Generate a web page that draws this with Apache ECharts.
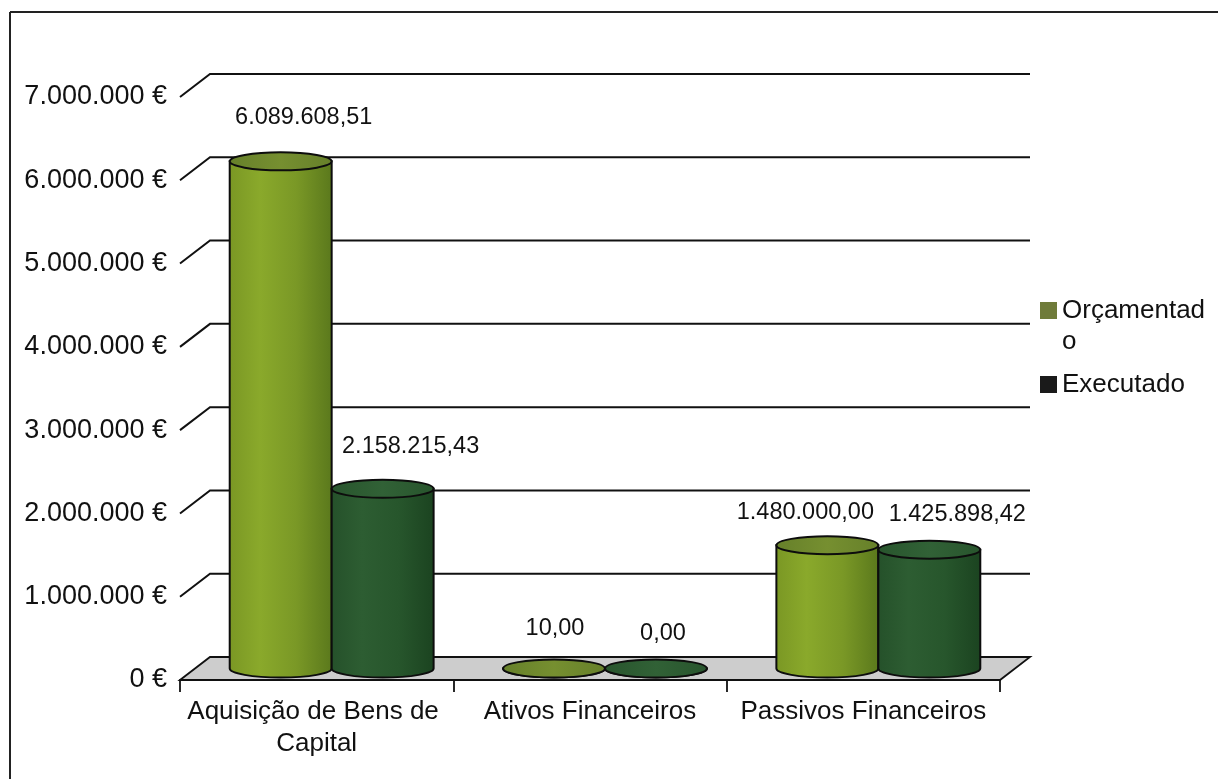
<!DOCTYPE html>
<html>
<head>
<meta charset="utf-8">
<script src="https://cdn.jsdelivr.net/npm/echarts@6/dist/echarts.min.js"></script>
<style>
  html, body { margin: 0; padding: 0; background: #fff; }
  #chart { width: 1218px; height: 779px; }
</style>
</head>
<body>
<div id="chart"></div>
<script>
// Categories and values (euros)
const categories = ['Aquisição de Bens de Capital', 'Ativos Financeiros', 'Passivos Financeiros'];
const seriesNames = ['Orçamentado', 'Executado'];
const orcamentado = [6089608.51, 10.00, 1480000.00];
const executado = [2158215.43, 0.00, 1425898.42];
const valueTicks = [0, 1000000, 2000000, 3000000, 4000000, 5000000, 6000000, 7000000];

// 3D look: depth offset of the back wall relative to the front axis plane
const DEPTH_X = 30, DEPTH_Y = -23;
const FONT = "'Liberation Sans', Arial, sans-serif";

// Value label nudges (px) per series / category
const labelShift = [
  [[23, -44], [1, -40], [-22, -33]],
  [[28, -42], [7, -35], [28, -35]]
];

// Cylinder palettes
const palettes = [
  { body: ['#7a9724', '#8aa92b', '#7a9826', '#5a781c'], top: ['#66802a', '#768f30'], legend: '#6f7b3a' },
  { body: ['#25512a', '#2d5d32', '#27562c', '#1b4320'], top: ['#28552d', '#316136'], legend: '#1a1a1a' }
];

function fmtThousands(intStr) {
  return intStr.replace(/\B(?=(\d{3})+(?!\d))/g, '.');
}
function fmtValue(v) {
  const parts = v.toFixed(2).split('.');
  return fmtThousands(parts[0]) + ',' + parts[1];
}
function fmtAxis(v) {
  return fmtThousands(String(Math.round(v))) + ' €';
}

const chart = echarts.init(document.getElementById('chart'));

// Back wall gridlines and floor
function renderGrid(params, api) {
  const v = api.value(1);
  const cs = params.coordSys;
  const y = api.coord([0, v])[1];
  const xl = cs.x, xr = cs.x + cs.width;
  if (v === 0) {
    return {
      type: 'polygon',
      shape: { points: [[xl, y], [xl + DEPTH_X, y + DEPTH_Y], [xr + DEPTH_X, y + DEPTH_Y], [xr, y]] },
      style: { fill: '#cdcdcd', stroke: '#111', lineWidth: 1.8 },
      z2: 0
    };
  }
  return {
    type: 'polyline',
    shape: { points: [[xl, y], [xl + DEPTH_X, y + DEPTH_Y], [xr + DEPTH_X, y + DEPTH_Y]] },
    style: { stroke: '#111', lineWidth: 2, fill: null },
    z2: 0
  };
}

// Cylinders
function makeCylinderRenderer(si) {
  return function (params, api) {
    const ci = api.value(0);
    const v = api.value(1);
    const p0 = api.coord([ci, 0]);
    const p1 = api.coord([ci, v]);
    const band = api.size([1, 0])[0];
    const rx = band * 0.1865;
    const ry = 9;
    const cx = p0[0] + DEPTH_X / 2 + (si === 0 ? -rx : rx);
    const yb = p0[1] + DEPTH_Y / 2;
    const yt = p1[1] + DEPTH_Y / 2;
    const x1 = cx - rx, x2 = cx + rx;
    const pal = palettes[si];
    const body = 'M' + x1 + ' ' + yt + ' L' + x1 + ' ' + yb +
      ' A' + rx + ' ' + ry + ' 0 0 0 ' + x2 + ' ' + yb +
      ' L' + x2 + ' ' + yt + ' Z';
    const top = 'M' + x1 + ' ' + yt +
      ' A' + rx + ' ' + ry + ' 0 1 0 ' + x2 + ' ' + yt +
      ' A' + rx + ' ' + ry + ' 0 1 0 ' + x1 + ' ' + yt + ' Z';
    const sh = labelShift[si][ci];
    return {
      type: 'group',
      children: [
        {
          type: 'path',
          shape: { pathData: body },
          style: {
            fill: new echarts.graphic.LinearGradient(0, 0, 1, 0, [
              { offset: 0, color: pal.body[0] },
              { offset: 0.3, color: pal.body[1] },
              { offset: 0.65, color: pal.body[2] },
              { offset: 1, color: pal.body[3] }
            ]),
            stroke: '#0d0d0d', lineWidth: 2
          },
          z2: 10
        },
        {
          type: 'path',
          shape: { pathData: top },
          style: {
            fill: new echarts.graphic.LinearGradient(0, 0, 1, 0, [
              { offset: 0, color: pal.top[0] },
              { offset: 0.5, color: pal.top[1] },
              { offset: 1, color: pal.top[0] }
            ]),
            stroke: '#0d0d0d', lineWidth: 2
          },
          z2: 11
        },
        {
          type: 'text',
          style: {
            text: fmtValue(v),
            x: cx + sh[0], y: yt + sh[1],
            align: 'center', verticalAlign: 'middle',
            fontSize: 23.5, fontFamily: FONT, fill: '#111'
          },
          z2: 12
        }
      ]
    };
  };
}

const legendText = { fontSize: 26, fontFamily: FONT, color: '#111', lineHeight: 31 };

const option = {
  animation: false,
  backgroundColor: '#fff',
  grid: { left: 180, right: 218, top: 97, bottom: 99 },
  xAxis: {
    type: 'category',
    data: categories,
    boundaryGap: true,
    axisLine: { show: true, lineStyle: { color: '#111', width: 1.8 } },
    axisTick: { show: true, interval: 0, length: 12, lineStyle: { color: '#111', width: 1.8 } },
    axisLabel: {
      interval: 0, margin: 16, fontSize: 26, fontFamily: FONT, color: '#111',
      width: 300, overflow: 'break', lineHeight: 32
    },
    splitLine: { show: false }
  },
  yAxis: {
    type: 'value',
    min: 0, max: 7000000, interval: 1000000,
    axisLine: { show: false },
    axisTick: { show: false },
    splitLine: { show: false },
    axisLabel: {
      formatter: fmtAxis, margin: 13, fontSize: 27, fontFamily: FONT, color: '#111',
      padding: [0, 0, 8, 0]
    }
  },
  legend: [
    {
      // leading empty line keeps the first text line level with the swatch
      data: [seriesNames[0]],
      formatter: name => '\n' + name,
      left: 1040, top: 264, padding: 0,
      orient: 'vertical', icon: 'rect', itemWidth: 17, itemHeight: 17,
      selectedMode: false,
      textStyle: Object.assign({ width: 164, overflow: 'breakAll' }, legendText)
    },
    {
      data: [seriesNames[1]],
      left: 1040, top: 369, padding: 0,
      orient: 'vertical', icon: 'rect', itemWidth: 17, itemHeight: 17,
      selectedMode: false,
      textStyle: legendText
    }
  ],
  graphic: [
    { type: 'line', shape: { x1: 10, y1: 12, x2: 1218, y2: 12 }, style: { stroke: '#222', lineWidth: 2 }, silent: true },
    { type: 'line', shape: { x1: 10, y1: 12, x2: 10, y2: 779 }, style: { stroke: '#222', lineWidth: 2 }, silent: true }
  ],
  series: [
    {
      type: 'custom',
      silent: true,
      renderItem: renderGrid,
      encode: { x: 0, y: 1 },
      data: valueTicks.map(v => [0, v]),
      z: 1
    },
    {
      name: seriesNames[0],
      type: 'custom',
      renderItem: makeCylinderRenderer(0),
      encode: { x: 0, y: 1 },
      itemStyle: { color: palettes[0].legend },
      data: orcamentado.map((v, i) => [i, v]),
      z: 3
    },
    {
      name: seriesNames[1],
      type: 'custom',
      renderItem: makeCylinderRenderer(1),
      encode: { x: 0, y: 1 },
      itemStyle: { color: palettes[1].legend },
      data: executado.map((v, i) => [i, v]),
      z: 4
    }
  ]
};

chart.setOption(option);
</script>
</body>
</html>
